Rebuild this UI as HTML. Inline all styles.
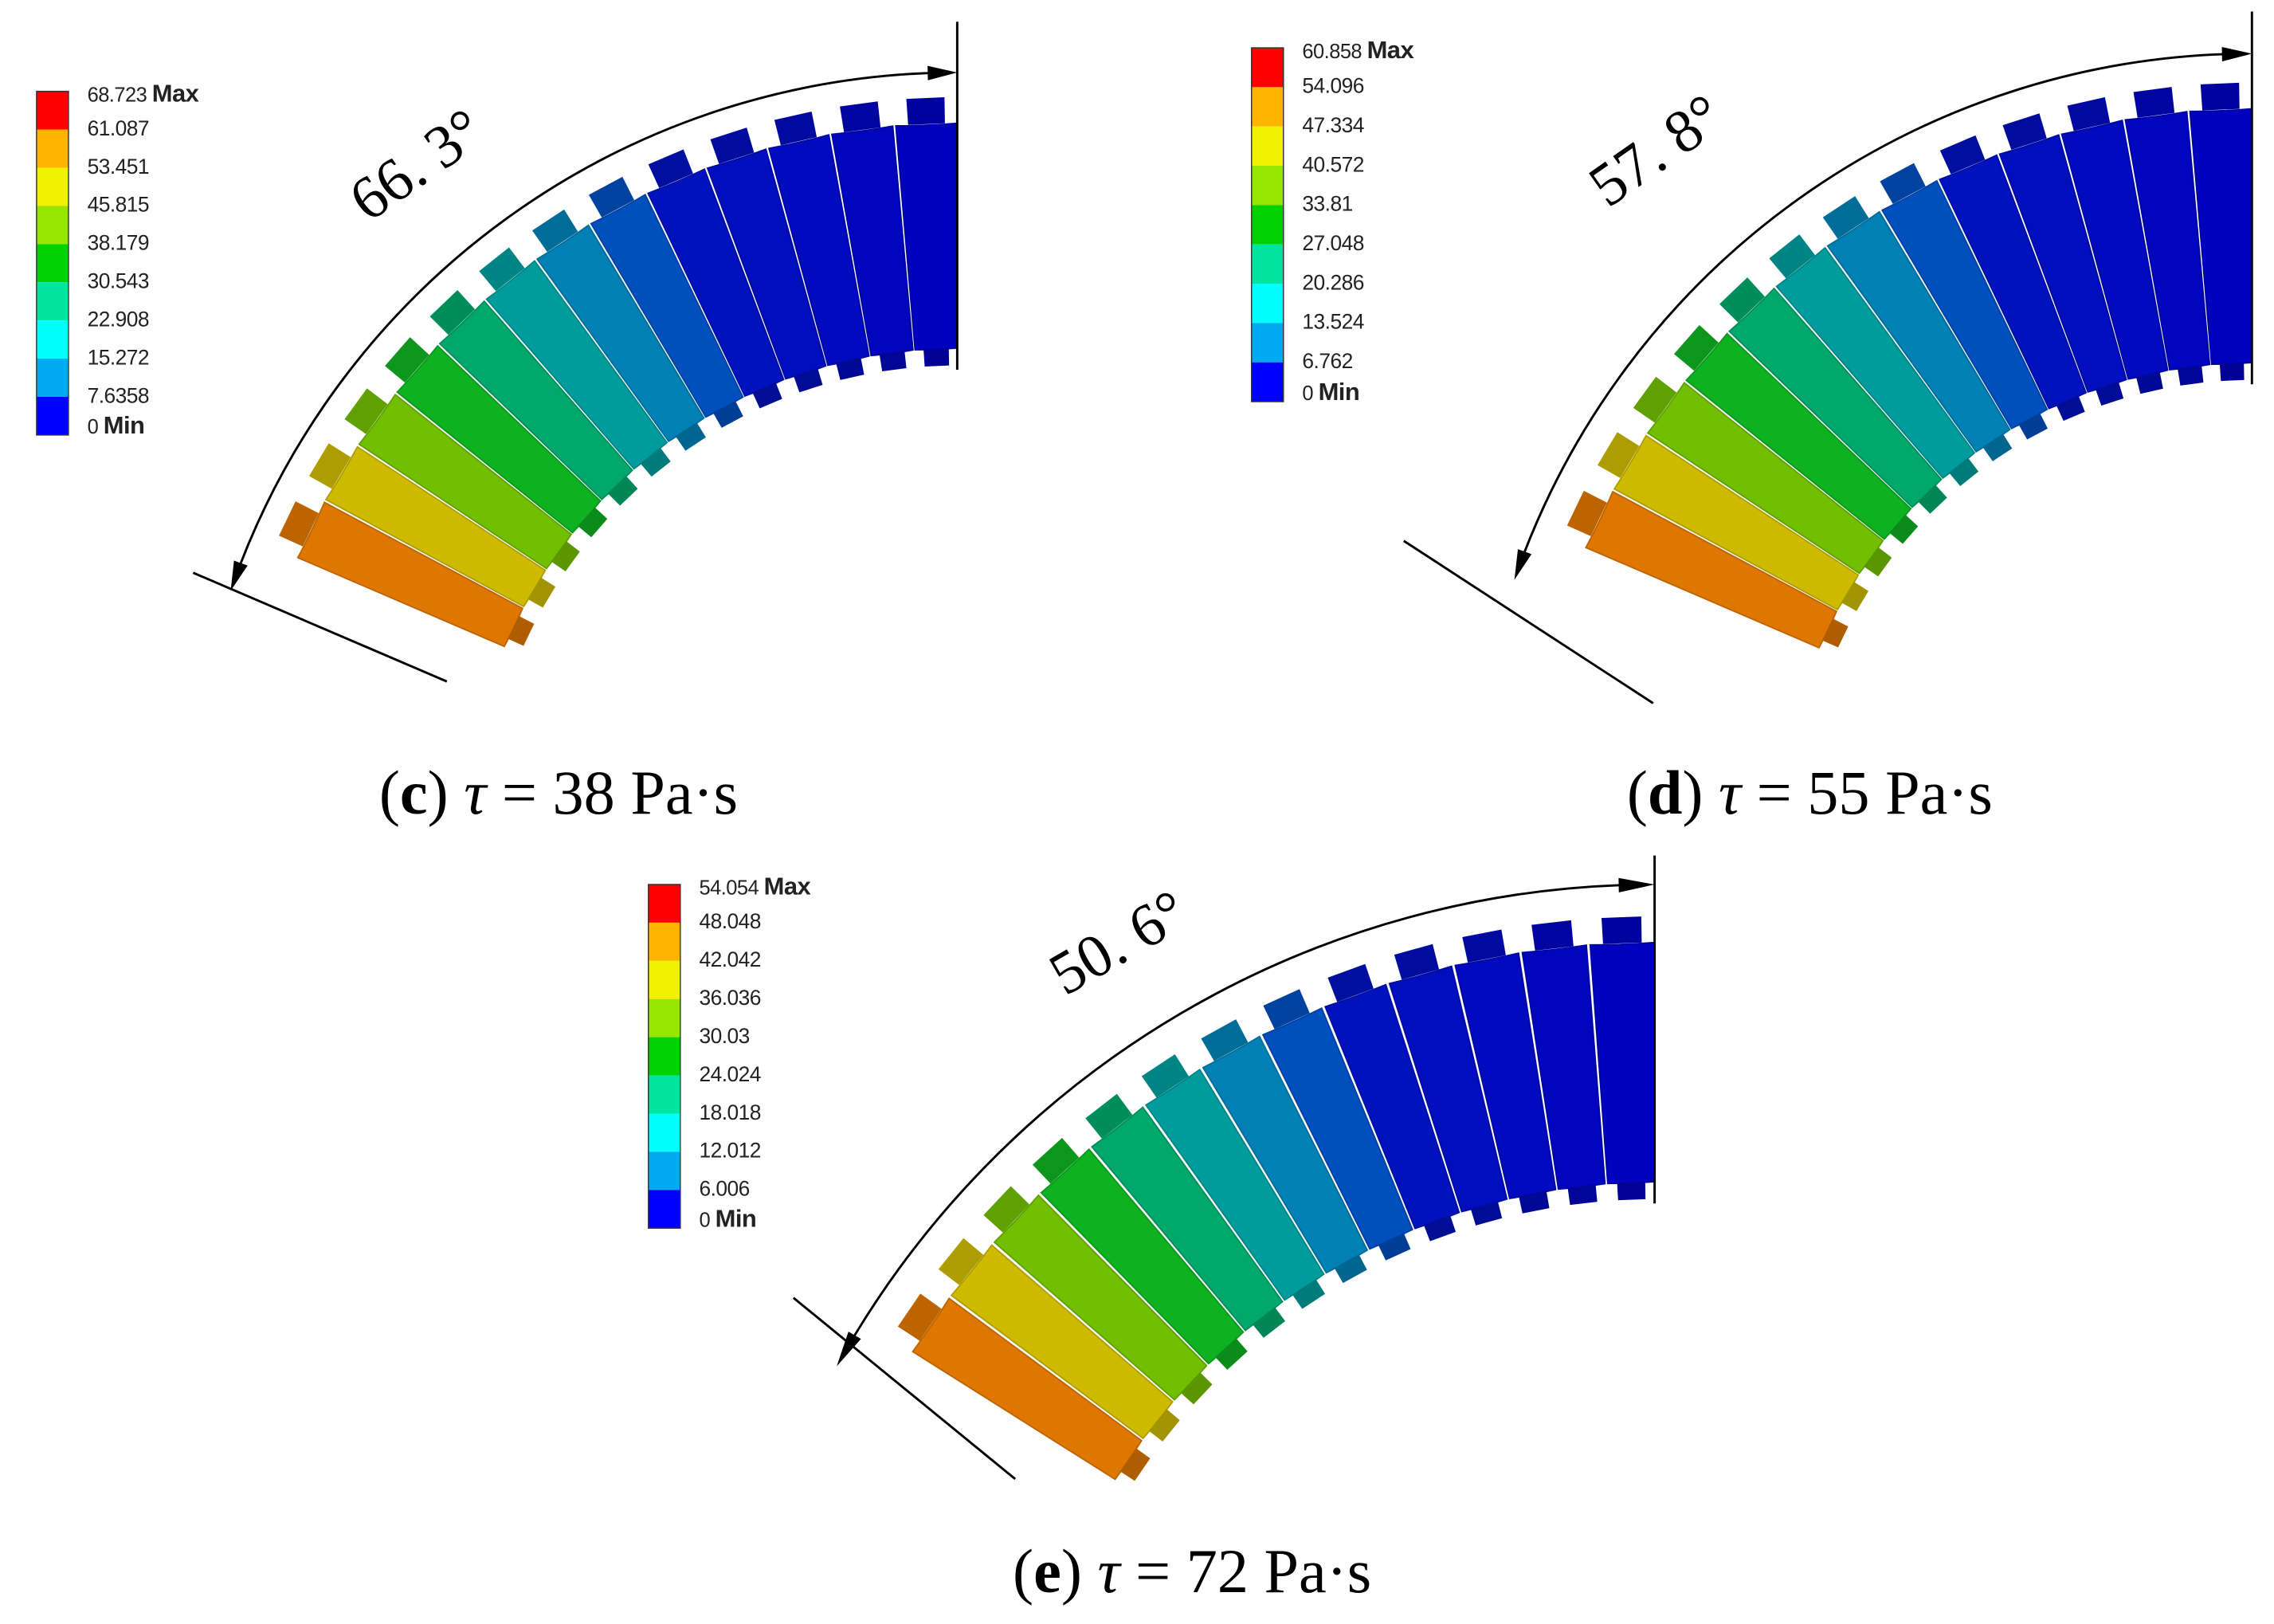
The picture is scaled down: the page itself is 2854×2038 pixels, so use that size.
<!DOCTYPE html>
<html><head><meta charset="utf-8"><style>
html,body{margin:0;padding:0;background:#fff;}
svg{display:block;}
</style></head><body>
<svg id="fig" width="2854" height="2038" viewBox="0 0 1568 1120" xmlns="http://www.w3.org/2000/svg">
<rect width="1568" height="1120" fill="#fff"/>
</svg>
<script>
// legend tick labels per panel (top = max, bottom = min)
const legendC = ["68.723 Max","61.087","53.451","45.815","38.179","30.543","22.908","15.272","7.6358","0 Min"];
const legendD = ["60.858 Max","54.096","47.334","40.572","33.81","27.048","20.286","13.524","6.762","0 Min"];
const legendE = ["54.054 Max","48.048","42.042","36.036","30.03","24.024","18.018","12.012","6.006","0 Min"];
const angleLabels = ["66. 3°","57. 8°","50. 6°"];
const captionsTau = ["38","55","72"];
const captionsLetter = ["c","d","e"];
const legendColors = ["#ff0000","#ffb400","#f0f000","#96e600","#00d200","#00e6a0","#00ffff","#00aaf0","#0000ff"];

const NS="http://www.w3.org/2000/svg";
const svg=document.getElementById('fig');
function mk(tag,attrs,parent){const e=document.createElementNS(NS,tag);for(const k in attrs)e.setAttribute(k,attrs[k]);(parent||svg).appendChild(e);return e;}

const stops=[[0,[0,0,200]],[0.36,[0,20,200]],[0.45,[0,110,200]],[0.55,[0,160,180]],[0.64,[0,175,130]],[0.72,[0,185,40]],[0.8,[110,200,0]],[0.88,[215,200,0]],[0.95,[235,150,0]],[1,[230,40,0]]];
function col(t,sh){t=Math.max(0,Math.min(1,t));let i=0;while(i<stops.length-2&&t>stops[i+1][0])i++;
 const f=(t-stops[i][0])/(stops[i+1][0]-stops[i][0]);const a=stops[i][1],b=stops[i+1][1];
 const c=a.map((v,k)=>Math.round((v+(b[k]-v)*f)*sh));return `rgb(${c[0]},${c[1]},${c[2]})`;}

const panels=[
 {lx:25,ly:63,lh:237,cx:660,cy:580,ro:495,ri:340,ra:530,top:15,span:67,aspan:71,tang:[133,395,308,470],al:[295,125,-35],cap:[385,548],leg:legendC},
 {lx:863,ly:33,lh:244,cx:1553,cy:575,ro:500,ri:325,ra:538,top:8,span:67,aspan:71,tang:[968,373,1140,485],al:[1150,115,-35],cap:[1248,548],leg:legendD},
 {lx:447,ly:610,lh:237,cx:1141,cy:1255,ro:605,ri:440,ra:645,top:590,span:58,aspan:61,tang:[547,895,700,1020],al:[778,662,-30],cap:[822,1085],leg:legendE}
];
function P(cx,cy,r,deg){const a=deg*Math.PI/180;return [cx+r*Math.cos(a),cy-r*Math.sin(a)];}

panels.forEach((p,pi)=>{
 const g=mk('g',{});
 
 
 const N=13, span=p.span;
 for(let i=0;i<N;i++){
  const a0=90+span*i/N, a1=90+span*(i+1)/N-0.25;
  const tc=(i+0.5)/N;
  const o=[P(p.cx,p.cy,p.ro,a0),P(p.cx,p.cy,p.ro,a1),P(p.cx,p.cy,p.ri,a1),P(p.cx,p.cy,p.ri,a0)];
  const seg=mk('path',{d:`M${o[0]} A${p.ro},${p.ro} 0 0 1 ${o[1]} L${o[2]} A${p.ri},${p.ri} 0 0 0 ${o[3]} Z`,fill:col(tc,0.95),stroke:col(tc,0.8),'stroke-width':1},g);
  
  
  const am=(a0+a1)/2, w=(a1-a0)*0.3;
  const q=[P(p.cx,p.cy,p.ro,am-w),P(p.cx,p.cy,p.ro+18,am-w),P(p.cx,p.cy,p.ro+18,am+w),P(p.cx,p.cy,p.ro,am+w)];
  const th=mk('polygon',{points:q.map(v=>v.join(',')).join(' '),fill:col(tc,0.8)},g);
  
  
  const q2=[P(p.cx,p.cy,p.ri,am-w),P(p.cx,p.cy,p.ri-12,am-w),P(p.cx,p.cy,p.ri-12,am+w),P(p.cx,p.cy,p.ri,am+w)];
  const th2=mk('polygon',{points:q2.map(v=>v.join(',')).join(' '),fill:col(tc,0.75)},g);
  
  
 }
 const vl=mk('line',{x1:p.cx,y1:p.top,x2:p.cx,y2:p.cy-p.ri+15,stroke:'#000','stroke-width':1.6},g);
 
 
 const tl=mk('line',{x1:p.tang[0],y1:p.tang[1],x2:p.tang[2],y2:p.tang[3],stroke:'#000','stroke-width':1.6},g);
 
 
 const aEnd=90+p.aspan;
 const s=P(p.cx,p.cy,p.ra,90.5), e=P(p.cx,p.cy,p.ra,aEnd-0.5);
 const arc=mk('path',{d:`M${s[0]},${s[1]} A${p.ra},${p.ra} 0 0 0 ${e[0]},${e[1]}`,fill:'none',stroke:'#000','stroke-width':1.6},g);
 
 
 function head(deg,dir){const tip=P(p.cx,p.cy,p.ra,deg);const b=P(p.cx,p.cy,p.ra,deg+dir*2.2);
  const dx=tip[0]-b[0],dy=tip[1]-b[1],L=Math.hypot(dx,dy),nx=-dy/L*5,ny=dx/L*5;
  const h=mk('polygon',{points:`${tip[0]},${tip[1]} ${b[0]+nx},${b[1]+ny} ${b[0]-nx},${b[1]-ny}`,fill:'#000'},g);
  
  }
 head(90,1); head(aEnd,-1);
 const at=mk('text',{x:p.al[0],y:p.al[1],transform:`rotate(${p.al[2]} ${p.al[0]} ${p.al[1]})`,'font-family':'Liberation Serif, serif','font-size':42,'text-anchor':'middle'},g);
 at.textContent=angleLabels[pi];
 
 
 const n=legendColors.length, bh=p.lh/n;
 legendColors.forEach((c,i)=>{
  const r=mk('rect',{x:p.lx,y:p.ly+i*bh,width:22,height:bh,fill:c},g);
  
  
 });
 const fr=mk('rect',{x:p.lx,y:p.ly,width:22,height:p.lh,fill:'none',stroke:'#333','stroke-width':0.8},g);
 
 
 p.leg.forEach((lab,i)=>{
  const y=p.ly+i*bh+(i==0?7:(i==p.leg.length-1?-1:4));
  const tx=mk('text',{x:p.lx+35,y:y,'font-family':'Liberation Sans, sans-serif','font-size':i==0||i==p.leg.length-1?14:14.5,fill:'#222','letter-spacing':-0.3},g);
  if(i==0||i==p.leg.length-1){const parts=lab.split(' ');tx.textContent=parts[0]+' ';const b=mk('tspan',{'font-weight':'bold','font-size':17},tx);b.textContent=parts[1];}
  else tx.textContent=lab;
  
  
 });
 const cp=mk('text',{x:p.cap[0],y:p.cap[1]+13,'font-family':'Liberation Serif, serif','font-size':43,'text-anchor':'middle'},g);
 cp.textContent='(';
 const b=mk('tspan',{'font-weight':'bold'},cp);b.textContent=captionsLetter[pi];
 const r2=mk('tspan',{},cp);r2.textContent=') ';
 const ta=mk('tspan',{'font-style':'italic'},cp);ta.textContent='τ';
 const r3=mk('tspan',{},cp);r3.textContent=' = '+captionsTau[pi]+' Pa·s';
 
 
});
</script>
</body></html>
